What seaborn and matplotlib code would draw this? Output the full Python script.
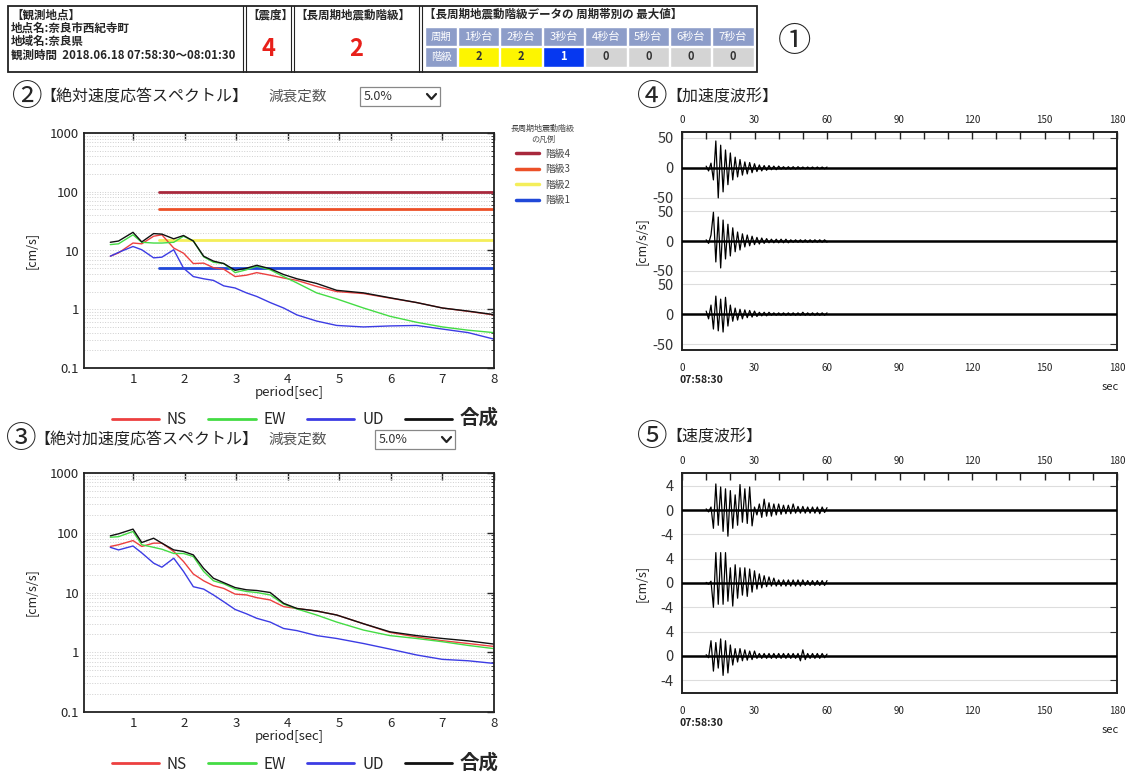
import numpy as np
import pandas as pd
import seaborn as sns
import matplotlib.pyplot as plt
from matplotlib.patches import Rectangle
from matplotlib.ticker import LogLocator, NullFormatter, FixedLocator

# ---- header data ----
station_lines = ["【観測地点】", "地点名:奈良市西紀寺町", "地域名:奈良県",
                 "観測時間  2018.06.18 07:58:30〜08:01:30"]
shindo = "4"
lp_class = "2"
band_labels = ["1秒台", "2秒台", "3秒台", "4秒台", "5秒台", "6秒台", "7秒台"]
band_classes = [2, 2, 1, 0, 0, 0, 0]

# ---- response spectra ----
periods = [0.56, 0.72, 1.0, 1.17, 1.4, 1.56, 1.79, 1.98, 2.17, 2.37, 2.56, 2.76, 2.98,
           3.2, 3.4, 3.66, 3.92, 4.18, 4.56, 4.95, 5.47, 5.98, 6.5, 7.0, 7.5, 8.0]
vel_ns = [8, 9.1, 13.4, 13, 17.5, 18.5, 11, 9, 6, 6.1, 5.1, 4.8, 3.6, 3.8, 4.2, 3.8, 3.4,
          3.1, 2.45, 2.0, 1.85, 1.55, 1.3, 1.05, 0.92, 0.8]
vel_ew = [12.6, 13, 18.5, 13.8, 13.4, 13.4, 13.8, 17.5, 14.5, 7.8, 6.3, 6, 4.2, 4.7, 5.4,
          4.7, 3.6, 2.8, 1.9, 1.5, 1.05, 0.76, 0.6, 0.5, 0.44, 0.4]
vel_ud = [8, 9.3, 11.7, 10.3, 7.5, 7.7, 10.3, 5, 3.6, 3.3, 3.1, 2.5, 2.3, 1.9, 1.65, 1.3,
          1.05, 0.8, 0.63, 0.53, 0.5, 0.52, 0.53, 0.46, 0.4, 0.31]
vel_total = [13.8, 14.5, 20.4, 14, 19.4, 19, 15.8, 18, 14.5, 8, 6.6, 6, 4.6, 5, 5.6, 4.9,
             3.9, 3.3, 2.75, 2.1, 1.9, 1.57, 1.3, 1.05, 0.93, 0.81]
acc_ns = [59, 63, 74, 59, 67, 67, 48.6, 33, 20.4, 15.7, 13, 11.7, 9.4, 9.1, 8.2, 7.5, 5.8,
          5.4, 4.9, 4.2, 3.0, 2.15, 1.8, 1.56, 1.4, 1.25]
acc_ew = [84, 86, 105, 63, 57, 53, 45, 45, 40, 22.5, 15.7, 14, 11.4, 10.4, 10, 9.1, 6.4,
          5.3, 4.2, 3.2, 2.35, 1.9, 1.7, 1.5, 1.3, 1.15]
acc_ud = [57, 51.6, 60, 46, 31, 26.5, 37.5, 22.5, 12.5, 11.4, 9.1, 7.0, 5.2, 4.4, 3.7, 3.2,
          2.5, 2.3, 1.9, 1.7, 1.4, 1.13, 0.9, 0.76, 0.72, 0.65]
acc_total = [88.8, 96, 115, 68.6, 81, 67, 51.6, 48.6, 42.6, 25.3, 17.3, 14.6, 12.1, 11.1,
             10.8, 10, 6.6, 5.4, 4.9, 4.2, 3.0, 2.2, 1.9, 1.7, 1.55, 1.37]

comp_names = ["NS", "EW", "UD", "合成"]
comp_colors = ["#ec4040", "#44dc44", "#3c3ce4", "#111111"]

level_values = [100, 50, 15, 5]
level_names = ["階級4", "階級3", "階級2", "階級1"]
level_colors = ["#a8283c", "#ec5028", "#f4ee5a", "#2048d8"]

# ---- waveforms: signed peaks, 1 s steps from 10 s to 60 s ----
wave_t = list(range(10, 61))
accw_1 = [3, -5, 8, -20, 45, -50, 38, -40, 30, -28, 25, -20, 18, -15, 14, -12, 10, -10, 9, -8,
          7, -6, 5, -5, 4, -4, 4, -3, 3, -3, 3, -2, 2, -2, 2, -2, 2, -2, 2, -1.5, 1.5, -1.5,
          1.5, -1.5, 1.5, -1.5, 1.5, -1.5, 1.5, -1.5, 1.5]
accw_2 = [2, -4, 10, 48, -35, 40, -45, 35, -30, 28, -25, 22, -18, 15, -15, 12, -10, 10, -8, 8,
          -6, 6, -5, 5, -4, 4, -3, 3, -3, 3, -3, 3, -3, 3, -3, 2, -2, 2, -2, 2, -2, 2,
          -2, 2, -2, 2, -2, 2, -2, 2, -2]
accw_3 = [5, -8, 15, -25, 30, -28, 25, -30, 28, -20, 15, -12, 10, -10, 8, -8, 7, -6, 6, -5,
          5, -4, 3, -3, 3, -3, 3, -2, 2, -2, 2, -2, 2, -2, 2, -2, 2, -2, 2, -2, 3, -2,
          2, -2, 2, -2, 2, -2, 2, -2, 2]
velw_1 = [0.2, -0.3, 0.5, -3, 4.3, -2.5, 3.8, -3.5, 3.5, -4.3, 3.2, -3, 2.5, -2.5, 4.2, -2,
          3.5, -2.2, 3.8, -2.6, 0.5, -0.8, 1.0, -1.2, 1.8, -1.0, 1.2, -1.0, 1.0, -0.8, 1.0,
          -0.7, 0.8, -0.6, 0.8, -0.6, 1.0, -0.5, 0.6, -0.5, 0.6, -0.5, 0.5, -0.5, 0.5, -0.5,
          0.5, -0.6, 0.5, -0.4, 0.4]
velw_2 = [0.1, -0.2, 0.3, -4, 5, -3.5, 5, -3.5, 5, -3, 2.5, -3.8, 3, -2.5, 2.5, -2, 2.5, -2.2,
          2.3, -1.5, 2, -1, 1.5, -0.8, 1.2, -0.6, 1.0, -0.5, 0.8, -0.5, 0.5, -0.5, 0.5, -0.5,
          0.5, -0.5, 0.5, -0.5, 0.5, -0.5, 0.5, -0.4, 0.4, -0.4, 0.4, -0.4, 0.4, -0.4, 0.4,
          -0.4, 0.4]
velw_3 = [0.2, -0.3, 2.5, -2.5, 2.2, -2, 2.8, -3.2, 2.5, -2.8, 1.8, -1.5, 1.2, -1.0, 1.2,
          -0.8, 1.0, -0.7, 0.8, -0.6, 0.8, -0.4, 0.4, -0.4, 0.4, -0.4, 0.4, -0.4, 0.4, -0.4,
          0.4, -0.4, 0.4, -0.4, 0.4, -0.4, 0.4, -0.4, 0.4, -0.8, 1.0, -0.6, 0.4, -0.4, 0.4,
          -0.4, 0.4, -0.4, 0.4, -0.3, 0.3]

W, H = 1129, 772


def fig_rect(l, t, r, b):
    return [l / W, 1 - b / H, (r - l) / W, (b - t) / H]


sns.set_style("white")
plt.rcParams["font.family"] = ["Noto Sans CJK JP", "DejaVu Sans"]

fig = plt.figure(figsize=(W / 100, H / 100), dpi=100)

# background layer in pixel coordinates for header / titles
bg = fig.add_axes([0, 0, 1, 1])
bg.set_xlim(0, W)
bg.set_ylim(H, 0)
bg.axis("off")

# header table
bg.add_patch(Rectangle((8, 6), 749, 66, fill=False, ec="#222", lw=1.3))
for x in [243, 246, 291, 294, 419, 422]:
    bg.plot([x, x], [6, 72], color="#222", lw=0.8)
for i, line in enumerate(station_lines):
    bg.text(11, 15 + i * 13.5, line, fontsize=8.3, fontweight="bold", va="center")
bg.text(247, 15, "【震度】", fontsize=8.3, fontweight="bold", va="center")
bg.text(268, 49, shindo, fontsize=17, fontweight="bold", color="#e8201a", ha="center", va="center")
bg.text(295, 15, "【長周期地震動階級】", fontsize=8.3, fontweight="bold", va="center")
bg.text(356, 49, lp_class, fontsize=17, fontweight="bold", color="#e8201a", ha="center", va="center")
bg.text(424, 14, "【長周期地震動階級データの 周期帯別の 最大値】", fontsize=8.3,
        fontweight="bold", va="center")

head_c = "#8d9dc9"
cls_fill = {0: "#d4d4d4", 1: "#0638f0", 2: "#fdf500"}
cls_text = {0: "#333", 1: "white", 2: "#333"}
bg.add_patch(Rectangle((425, 27), 32, 19, fc=head_c, ec="white"))
bg.add_patch(Rectangle((425, 47), 32, 20, fc=head_c, ec="white"))
bg.text(441, 36.5, "周期", fontsize=7.5, color="white", ha="center", va="center")
bg.text(441, 57, "階級", fontsize=7.5, color="white", ha="center", va="center")
for i, (lab, c) in enumerate(zip(band_labels, band_classes)):
    x0 = 458 + i * 42.4
    bg.add_patch(Rectangle((x0, 27), 41.4, 19, fc=head_c, ec="white"))
    bg.add_patch(Rectangle((x0, 47), 41.4, 20, fc=cls_fill[c], ec="white"))
    bg.text(x0 + 20.7, 36.5, lab, fontsize=8, color="white", ha="center", va="center")
    bg.text(x0 + 20.7, 57, str(c), fontsize=8, fontweight="bold", color=cls_text[c],
            ha="center", va="center")
bg.text(795, 42, "①", fontsize=24, ha="center", va="center")

# section titles
for num, x, y, title, tx in [("②", 27, 97, "【絶対速度応答スペクトル】", 40),
                             ("③", 21, 440, "【絶対加速度応答スペクトル】", 34),
                             ("④", 652, 97, "【加速度波形】", 666),
                             ("⑤", 652, 437, "【速度波形】", 666)]:
    bg.text(x, y, num, fontsize=22, ha="center", va="center")
    bg.text(tx, y, title, fontsize=11.5, va="center", color="#222")
for x0, y0, lx in [(360, 87, 268), (375, 430, 268)]:
    bg.text(lx, y0 + 9.5, "減衰定数", fontsize=10.5, color="#555", va="center")
    bg.add_patch(Rectangle((x0, y0), 80, 19, fill=False, ec="#888", lw=0.9))
    bg.text(x0 + 4, y0 + 9.5, "5.0%", fontsize=9, va="center", color="#333")
    bg.plot([x0 + 67, x0 + 71.5, x0 + 76], [y0 + 7, y0 + 12, y0 + 7], color="#222", lw=1.6)


def spectrum(rect, series, ylab, with_levels):
    ax = fig.add_axes(rect)
    if with_levels:
        for v, name, c in zip(level_values, level_names, level_colors):
            sns.lineplot(x=[1.5, 8], y=[v, v], color=c, lw=2, label=name, ax=ax)
    for vals, name, c in zip(series, comp_names, comp_colors):
        sns.lineplot(x=periods, y=vals, color=c, lw=1, label=name, ax=ax)
    ax.set_yscale("log")
    ax.set_xlim(0.05, 8)
    ax.set_ylim(0.1, 1000)
    ax.set_xticks(range(1, 9))
    ax.set_yticks([0.1, 1, 10, 100, 1000])
    ax.set_yticklabels(["0.1", "1", "10", "100", "1000"])
    ax.yaxis.set_minor_locator(LogLocator(subs=np.arange(2, 10)))
    ax.yaxis.set_minor_formatter(NullFormatter())
    ax.grid(which="both", axis="y", color="#cfcfcf", ls=":", lw=0.7)
    ax.tick_params(which="both", direction="in", top=True, right=True, labelsize=9.5)
    ax.tick_params(which="major", length=5, width=1)
    ax.tick_params(which="minor", length=2.5)
    for s in ax.spines.values():
        s.set_linewidth(1.3)
        s.set_color("#222")
    ax.set_xlabel("period[sec]", fontsize=9.5, labelpad=0)
    ax.set_ylabel(ylab, fontsize=9)
    ax.yaxis.set_label_coords(-0.112, 0.5)
    handles, labels = ax.get_legend_handles_labels()
    n = len(level_values) if with_levels else 0
    leg = ax.legend(handles[n:], labels[n:], loc="center", bbox_to_anchor=(0.54, -0.213),
                    ncol=4, frameon=False, fontsize=11, handlelength=3.1, handletextpad=0.5,
                    columnspacing=1.4)
    for ln in leg.get_lines():
        ln.set_linewidth(2)
    leg.get_texts()[3].set_fontsize(14)
    leg.get_texts()[3].set_fontweight("bold")
    if with_levels:
        ax.add_artist(leg)
        lv = ax.legend(handles[:n], labels[:n], loc="upper left", bbox_to_anchor=(1.02, 1.075),
                       frameon=False, fontsize=7, title="長周期地震動階級\nの凡例",
                       title_fontsize=5.8, handlelength=2.4, labelspacing=0.55,
                       handletextpad=0.6)
        lv.get_title().set_multialignment("center")
        lv.get_title().set_color("#444")
        for t in lv.get_texts():
            t.set_color("#444")
        for ln in lv.get_lines():
            ln.set_linewidth(2.5)
    return ax


spectrum(fig_rect(84, 133, 494, 368), [vel_ns, vel_ew, vel_ud, vel_total], "[cm/s]", True)
spectrum(fig_rect(84, 473, 494, 712), [acc_ns, acc_ew, acc_ud, acc_total], "[cm/s/s]", False)


def waveform(rect, traces, step, amp, pad, ylab, ylab_y):
    ax = fig.add_axes(rect)
    offsets = [0, -step, -2 * step]
    for tr, off in zip(traces, offsets):
        sns.lineplot(x=wave_t, y=np.array(tr) + off, color="black", lw=0.9, ax=ax)
        ax.axhline(off, color="black", lw=1.8, zorder=3)
        for g in (off + amp, off - amp):
            ax.axhline(g, color="#dddddd", lw=0.8, zorder=0)
    ax.set_xlim(0, 180)
    ax.set_ylim(-2 * step - pad, pad)
    ax.xaxis.set_major_locator(FixedLocator(range(0, 181, 10)))
    ax.set_xticklabels([str(v) if v % 30 == 0 else "" for v in range(0, 181, 10)])
    ticks, labels = [], []
    for off in offsets:
        ticks += [off + amp, off, off - amp]
        labels += [str(amp), "0", str(-amp)]
    ax.set_yticks(ticks)
    ax.set_yticklabels(labels)
    ax.tick_params(axis="x", direction="in", top=True, length=5, width=1,
                   labelsize=7, pad=9, colors="#222")
    ax.tick_params(axis="y", direction="in", right=True, length=5, labelsize=10.5, pad=6,
                   colors="#333")
    sec = ax.secondary_xaxis("top")
    sec.set_xticks(list(range(0, 181, 30)))
    sec.tick_params(length=0, labelsize=7, pad=5, colors="#222")
    sec.spines["top"].set_visible(False)
    for s in ax.spines.values():
        s.set_linewidth(1.4)
        s.set_color("#222")
    ax.set_ylabel("")
    bottom_px = (1 - rect[1]) * H
    bg.text(680, bottom_px + 30, "07:58:30", fontsize=7.5, fontweight="bold", color="#222",
            va="center")
    bg.text(1110, bottom_px + 37, "sec", fontsize=8, color="#222", ha="center", va="center")
    bg.text(641, ylab_y, ylab, fontsize=9, rotation=90, ha="center", va="center")
    return ax


waveform(fig_rect(682, 132, 1117, 350), [accw_1, accw_2, accw_3], 122, 50, 60, "[cm/s/s]", 241)
waveform(fig_rect(682, 473, 1117, 693), [velw_1, velw_2, velw_3], 12, 4, 6.1, "[cm/s]", 583)

fig.savefig("out.png", dpi=100)
